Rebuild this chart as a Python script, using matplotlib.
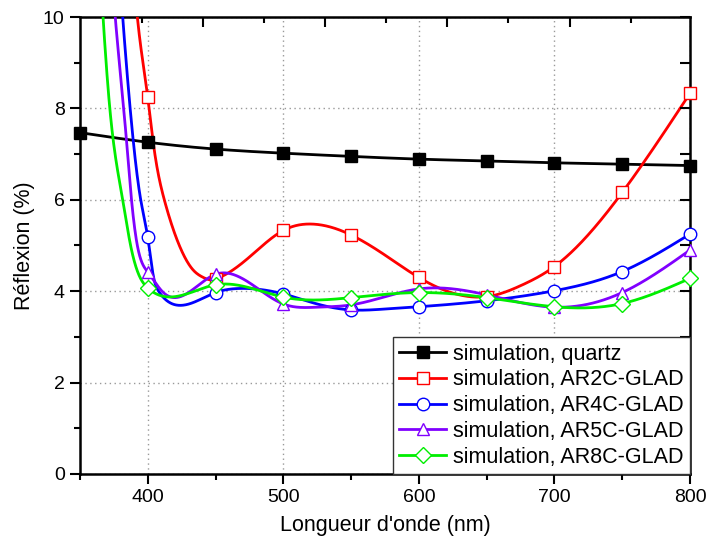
import numpy as np
import matplotlib
matplotlib.use("Agg")
import matplotlib.pyplot as plt
from matplotlib.ticker import MultipleLocator, FixedLocator, NullFormatter

plt.rcParams['font.family'] = ['Liberation Sans', 'DejaVu Sans']

# ---- data ----
marker_wl = [400, 450, 500, 550, 600, 650, 700, 750, 800]

quartz_wl = [350, 400, 450, 500, 550, 600, 650, 700, 750, 800]
quartz_r = [7.47, 7.26, 7.11, 7.02, 6.95, 6.89, 6.85, 6.81, 6.78, 6.75]

ar2c_wl = [386, 392.3, 400, 404.1, 412.2, 422.6, 433.6, 441, 446, 450, 475.5, 500, 520, 550,
           575, 600, 643, 650, 675, 700, 726, 750, 775.6, 800]
ar2c_r = [12.3, 10.0, 8.24, 7.24, 6.0, 5.05, 4.46, 4.30, 4.25, 4.27, 4.76, 5.33, 5.47, 5.23,
          4.79, 4.30, 3.87, 3.88, 4.12, 4.54, 5.27, 6.16, 7.24, 8.33]
ar2c_m = [8.24, 4.27, 5.33, 5.23, 4.30, 3.88, 4.54, 6.16, 8.33]

ar4c_wl = [376, 381.5, 387, 394.8, 400, 404, 408, 413, 424, 450, 468, 500, 525, 550,
           575, 600, 650, 700, 750, 800]
ar4c_r = [12.3, 10.0, 8.0, 6.0, 5.18, 4.35, 4.0, 3.82, 3.69, 3.97, 4.06, 3.94, 3.72, 3.59,
          3.61, 3.66, 3.79, 4.01, 4.43, 5.25]
ar4c_m = [5.18, 3.97, 3.94, 3.59, 3.66, 3.79, 4.01, 4.43, 5.25]

ar5c_wl = [370, 376, 383, 388, 392, 400, 411.5, 450, 500, 525, 550, 600, 650, 675, 700, 750, 800]
ar5c_r = [12.5, 10.0, 7.75, 6.0, 5.05, 4.42, 3.97, 4.37, 3.72, 3.65, 3.70, 4.05, 3.92, 3.75, 3.65, 3.97, 4.90]
ar5c_m = [4.42, 4.37, 3.72, 3.70, 4.05, 3.92, 3.65, 3.97, 4.90]

ar8c_wl = [362, 367, 372, 381.5, 387, 394, 400, 413, 450, 500, 550, 600, 650, 700, 750, 800]
ar8c_r = [12.5, 10.0, 8.0, 6.0, 5.05, 4.32, 4.07, 3.88, 4.14, 3.87, 3.86, 3.97, 3.86, 3.66, 3.73, 4.28]
ar8c_m = [4.07, 4.14, 3.87, 3.86, 3.97, 3.86, 3.66, 3.73, 4.28]

labels = ["simulation, quartz", "simulation, AR2C-GLAD", "simulation, AR4C-GLAD",
          "simulation, AR5C-GLAD", "simulation, AR8C-GLAD"]
colors = ["#000000", "#ff0000", "#0000ff", "#8000ff", "#00ee00"]
markers = ["s", "s", "o", "^", "D"]


def cspline(x, y, xn):
    """Natural cubic spline evaluated at xn."""
    x = np.asarray(x, float)
    y = np.asarray(y, float)
    n = len(x)
    h = np.diff(x)
    A = np.zeros((n, n))
    b = np.zeros(n)
    A[0, 0] = 1.0
    A[-1, -1] = 1.0
    for i in range(1, n - 1):
        A[i, i - 1] = h[i - 1]
        A[i, i] = 2 * (h[i - 1] + h[i])
        A[i, i + 1] = h[i]
        b[i] = 3 * ((y[i + 1] - y[i]) / h[i] - (y[i] - y[i - 1]) / h[i - 1])
    c = np.linalg.solve(A, b)
    bb = (y[1:] - y[:-1]) / h - h * (2 * c[:-1] + c[1:]) / 3
    d = (c[1:] - c[:-1]) / (3 * h)
    idx = np.clip(np.searchsorted(x, xn) - 1, 0, n - 2)
    t = xn - x[idx]
    return y[idx] + bb[idx] * t + c[idx] * t**2 + d[idx] * t**3


fig = plt.figure(figsize=(7.06, 5.42), dpi=100)
ax = fig.add_axes([0.1133, 0.1255, 0.8640, 0.8431])

series = [
    (quartz_wl, quartz_r, quartz_wl, quartz_r),
    (ar2c_wl, ar2c_r, marker_wl, ar2c_m),
    (ar4c_wl, ar4c_r, marker_wl, ar4c_m),
    (ar5c_wl, ar5c_r, marker_wl, ar5c_m),
    (ar8c_wl, ar8c_r, marker_wl, ar8c_m),
]

sizes = [8, 8, 9, 9, 8]
handles = []
for i, (wl, r, mwl, mr) in enumerate(series):
    xs = np.linspace(wl[0], wl[-1], 1500)
    ys = cspline(wl, r, xs)
    c = colors[i]
    ax.plot(xs, ys, color=c, lw=2, zorder=3)
    filled = (i == 0)
    ms = sizes[i]
    ax.plot(mwl, mr, linestyle="none", marker=markers[i], ms=ms,
            mfc=c if filled else "white", mec=c, mew=1.0, zorder=4, clip_on=False)
    h, = ax.plot([], [], color=c, lw=2, marker=markers[i], ms=ms,
                 mfc=c if filled else "white", mec=c, mew=1.0)
    handles.append(h)

ax.set_xlim(350, 800)
ax.set_ylim(0, 10)

ax.xaxis.set_major_locator(FixedLocator([400, 500, 600, 700, 800]))
ax.xaxis.set_minor_locator(FixedLocator([350, 450, 550, 650, 750]))
ax.yaxis.set_major_locator(MultipleLocator(2))
ax.yaxis.set_minor_locator(MultipleLocator(1))

ax.tick_params(axis='both', which='major', direction='out', length=7, width=1.5,
               labelsize=14, top=False, right=False, pad=4)
ax.tick_params(axis='both', which='minor', direction='out', length=4, width=1.5,
               top=False, right=False)

ax.grid(True, which='major', linestyle=(0, (1, 2.5)), color='#999999', linewidth=1.0, zorder=0)

for sp in ax.spines.values():
    sp.set_linewidth(1.8)

# top axis (unlabelled secondary ticks)
axt = ax.twiny()
axt.set_xlim(350, 800)
axt.xaxis.set_major_locator(FixedLocator([440.8, 530.7, 620.6, 711.6]))
axt.xaxis.set_minor_locator(FixedLocator([395.5, 486, 576, 666, 756.4]))
axt.xaxis.set_major_formatter(NullFormatter())
axt.tick_params(axis='x', which='major', direction='in', length=7, width=1.5)
axt.tick_params(axis='x', which='minor', direction='in', length=4, width=1.5)
for sp in axt.spines.values():
    sp.set_visible(False)

# right axis ticks (inward, no labels)
axr = ax.twinx()
axr.set_ylim(0, 10)
axr.yaxis.set_major_locator(MultipleLocator(2))
axr.yaxis.set_minor_locator(MultipleLocator(1))
axr.yaxis.set_major_formatter(NullFormatter())
axr.tick_params(axis='y', which='major', direction='in', length=7, width=1.5)
axr.tick_params(axis='y', which='minor', direction='in', length=7, width=1.5)
for sp in axr.spines.values():
    sp.set_visible(False)

ax.set_xlabel("Longueur d'onde (nm)", fontsize=15.5, labelpad=6)
ax.set_ylabel("Réflexion (%)", fontsize=15.5, labelpad=6)

leg = axr.legend(handles, labels, loc='lower right', fontsize=15.5, frameon=True,
                 fancybox=False, edgecolor='#333333', framealpha=1,
                 borderaxespad=0.0, handlelength=2.2, handletextpad=0.3,
                 labelspacing=0.22, borderpad=0.3)
leg.get_frame().set_linewidth(1.0)
leg.set_zorder(10)

fig.savefig("out.png", dpi=100)
